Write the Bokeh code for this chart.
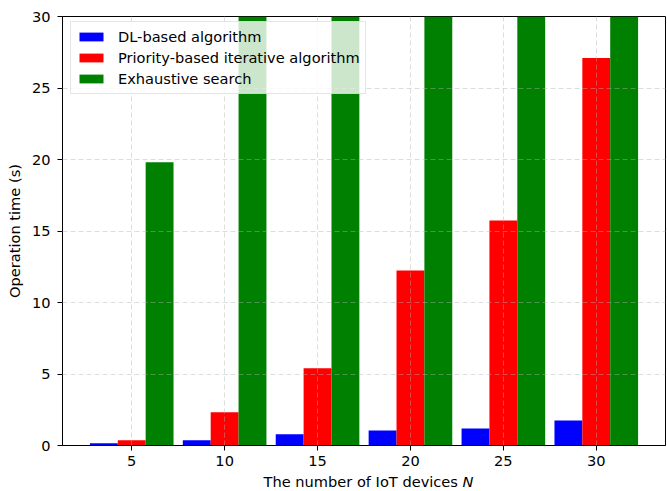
from bokeh.plotting import figure
from bokeh.models import Range1d, ColumnDataSource, Legend, LegendItem, FixedTicker, Div
from bokeh.layouts import column
from bokeh.transform import dodge
from bokeh.embed import file_html
from bokeh.resources import INLINE

devices = [5, 10, 15, 20, 25, 30]
dl_based = [0.16, 0.36, 0.79, 1.05, 1.19, 1.75]
priority_based = [0.37, 2.33, 5.4, 12.24, 15.73, 27.1]
exhaustive = [19.8, 95.0, 380.0, 1500.0, 6000.0, 24000.0]
y_ticks = [0, 5, 10, 15, 20, 25, 30]

bar_w = 1.5
FONT = "DejaVu Sans"
FS = "14.6px"

p = figure(width=667, height=468, output_backend="svg", toolbar_location=None,
           x_range=Range1d(1.275, 33.725), y_range=Range1d(0, 30),
           min_border_left=62, min_border_right=2, min_border_top=16, min_border_bottom=23)

src = ColumnDataSource(dict(x=devices, dl=dl_based, pr=priority_based, ex=exhaustive))
r1 = p.vbar(x=dodge("x", -bar_w, range=p.x_range), top="dl", width=bar_w, source=src,
            fill_color="#0000ff", line_color=None)
r2 = p.vbar(x=dodge("x", 0, range=p.x_range), top="pr", width=bar_w, source=src,
            fill_color="#ff0000", line_color=None)
r3 = p.vbar(x=dodge("x", bar_w, range=p.x_range), top="ex", width=bar_w, source=src,
            fill_color="#008000", line_color=None)

p.xaxis.ticker = FixedTicker(ticks=devices)
p.yaxis.ticker = FixedTicker(ticks=y_ticks)
for ax in (p.xaxis, p.yaxis):
    ax.major_label_text_font = FONT
    ax.major_label_text_font_size = FS
    ax.major_label_text_color = "black"
    ax.axis_label_text_font = FONT
    ax.axis_label_text_font_size = FS
    ax.axis_label_text_font_style = "normal"
    ax.axis_label_text_color = "black"
    ax.minor_tick_line_color = None
    ax.major_tick_out = 5
    ax.major_tick_in = 0
    ax.axis_line_color = "black"
    ax.major_tick_line_color = "black"
p.yaxis.axis_label = "Operation time (s)"
p.yaxis.major_label_standoff = 7
p.yaxis.axis_label_standoff = 6
p.xaxis.major_label_standoff = 5

p.outline_line_color = "black"
p.outline_line_alpha = 1

for g in (p.xgrid, p.ygrid):
    g.grid_line_color = "#b0b0b0"
    g.grid_line_alpha = 0.55
    g.grid_line_dash = "5 3"
    g.grid_line_width = 0.8
    g.level = "overlay"

legend = Legend(items=[LegendItem(label="DL-based algorithm", renderers=[r1]),
                       LegendItem(label="Priority-based iterative algorithm", renderers=[r2]),
                       LegendItem(label="Exhaustive search", renderers=[r3])],
                location=(8, 351))
legend.label_text_font = FONT
legend.label_text_font_size = FS
legend.label_text_color = "black"
legend.glyph_width = 30
legend.glyph_height = 11
legend.label_height = 19
legend.spacing = 2
legend.padding = 5
legend.margin = 0
legend.label_standoff = 12
legend.border_line_color = "#cccccc"
legend.border_line_width = 1
legend.background_fill_alpha = 0.8
legend.level = "overlay"
p.add_layout(legend)

xlabel = Div(text='<div style="width:603px;margin:0 0 0 62px;padding:0;text-align:center;'
                  'font-family:\'DejaVu Sans\';font-size:14.6px;color:black;'
                  'line-height:17px;white-space:nowrap">'
                  'The number of IoT devices <i>N</i></div>',
             width=667, height=22)

layout = column(p, xlabel, spacing=0)
open("out.html", "w").write(file_html(layout, INLINE))
